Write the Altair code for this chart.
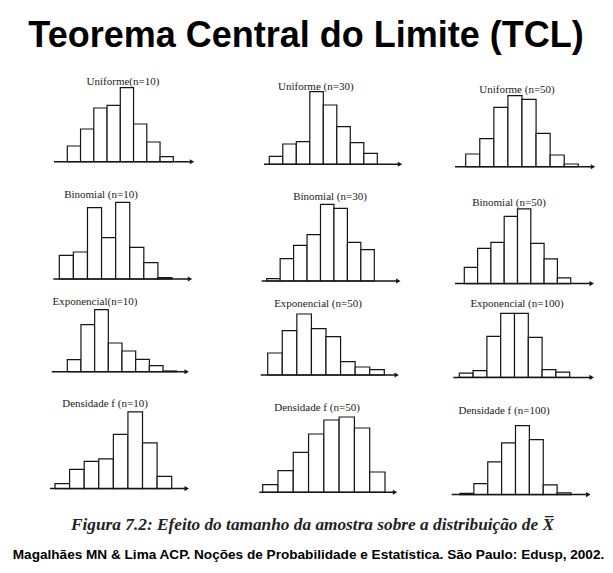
import altair as alt
import pandas as pd

# ---------------- data: class heights (8 classes each) ----------------
uniforme_10 = [15.7, 32.7, 53.7, 56.3, 74.0, 37.7, 19.7, 5.0]
uniforme_30 = [8.0, 20.3, 22.7, 72.7, 59.3, 37.7, 21.7, 11.0]
uniforme_50 = [12.7, 28.0, 59.3, 71.0, 67.3, 33.3, 11.7, 2.7]
binomial_10 = [23.7, 27.0, 71.3, 41.3, 76.7, 31.7, 16.3, 1.3]
binomial_30 = [2.3, 22.3, 35.7, 46.3, 76.7, 72.7, 38.7, 31.3]
binomial_50 = [16.3, 35.3, 41.3, 67.3, 74.7, 40.3, 24.7, 5.7]
exponencial_10 = [12.0, 47.0, 62.0, 28.7, 20.7, 12.3, 6.0, 0.7]
exponencial_50 = [22.0, 44.3, 61.0, 46.3, 38.3, 13.3, 8.0, 5.3]
exponencial_100 = [4.3, 6.7, 41.0, 64.0, 64.0, 40.0, 7.7, 5.3]
densidade_10 = [5.0, 19.3, 27.3, 29.7, 54.3, 76.7, 45.7, 12.3]
densidade_50 = [7.7, 21.7, 40.0, 58.3, 72.3, 75.3, 64.3, 20.3]
densidade_100 = [1.3, 11.0, 32.7, 51.7, 69.0, 55.0, 9.7, 1.7]

series = [
    uniforme_10, uniforme_30, uniforme_50,
    binomial_10, binomial_30, binomial_50,
    exponencial_10, exponencial_50, exponencial_100,
    densidade_10, densidade_50, densidade_100,
]
panel_titles = [
    "Uniforme(n=10)", "Uniforme (n=30)", "Uniforme (n=50)",
    "Binomial (n=10)", "Binomial (n=30)", "Binomial (n=50)",
    "Exponencial(n=10)", "Exponencial (n=50)", "Exponencial (n=100)",
    "Densidade f (n=10)", "Densidade f (n=50)", "Densidade f (n=100)",
]
main_title = "Teorema Central do Limite (TCL)"
caption = "Figura 7.2: Efeito do tamanho da amostra sobre a distribuição de X\u0305"
footer = "Magalhães MN & Lima ACP.  Noções de  Probabilidade e Estatística. São Paulo: Edusp, 2002."

# ---------------- layout (page pixels) ----------------
COL_X = [0, 245, 440]
COL_W = [245, 195, 173]
TITLE_ROW_H = 70
PAD = 5  # room below each baseline for the arrow head
# axis start, axis end, first class left, last class right, baseline, label x, label y
LAYOUT = [
    (54, 192, 67.3, 173.3, 161.7, 123, 81.7),
    (264, 400, 269.3, 377.3, 164.3, 315.8, 86.7),
    (455, 593, 465.7, 578.3, 166.7, 517, 90),
    (53.3, 190, 59.3, 172, 278.7, 101, 195),
    (261.7, 398.3, 266.7, 374.3, 280.7, 330, 196.7),
    (455, 591.7, 464.3, 570.7, 283.3, 509, 203),
    (51.7, 186.7, 67.3, 176.7, 371, 95, 301),
    (260.7, 396.7, 267.7, 384.3, 374.3, 318, 303),
    (453.3, 591.7, 459.3, 569.7, 376.7, 517, 303),
    (50, 186.7, 55, 171.7, 487.3, 105, 403),
    (259.3, 395, 262.7, 385, 491, 317, 406.7),
    (451.7, 588.3, 460, 571, 493.3, 504, 410),
]
INK = "#151515"


def panel(i, top):
    a, e, s, f, b, tx, ty = LAYOUT[i]
    col = i % 3
    ox, w = COL_X[col], COL_W[col]
    h = b - top
    k = (f - s) / 8.0
    xdom = [(ox - s) / k, (ox + w - s) / k]
    n = len(series[i])
    df = pd.DataFrame({
        "classe": list(range(n)),
        "fim": [c + 1 for c in range(n)],
        "freq": series[i],
    })
    bars = alt.Chart(df).mark_bar(fill="white", stroke=INK, strokeWidth=1.2).encode(
        x=alt.X("classe:Q", scale=alt.Scale(domain=xdom, nice=False, zero=False), axis=None),
        x2="fim:Q",
        y=alt.Y("freq:Q", scale=alt.Scale(domain=[-PAD, h], nice=False, zero=False), axis=None, stack=None),
        y2=alt.datum(0),
    )
    one = pd.DataFrame({"label": [panel_titles[i]]})
    axis_line = alt.Chart(one).mark_rule(color=INK, strokeWidth=1.5).encode(
        x=alt.value(a - ox), x2=alt.value(e - ox), y=alt.value(h)
    )
    arrow = alt.Chart(one).mark_point(
        shape="triangle-right", filled=True, color=INK, size=26, opacity=1
    ).encode(x=alt.value(e - ox), y=alt.value(h))
    label = alt.Chart(one).mark_text(
        font="Liberation Serif", fontSize=11, color="#222", baseline="middle", align="center"
    ).encode(text="label:N", x=alt.value(tx - ox), y=alt.value(ty - top))
    return alt.layer(bars, axis_line, arrow, label).properties(width=w, height=h + PAD)


tops = [TITLE_ROW_H]
for r in range(4):
    tops.append(max(LAYOUT[3 * r + c][4] for c in range(3)) + PAD)

rows = []
for r in range(4):
    rows.append(alt.hconcat(*[panel(3 * r + c, tops[r]) for c in range(3)], spacing=0))

title_chart = alt.Chart(pd.DataFrame({"t": [main_title]})).mark_text(
    font="Liberation Sans", fontSize=36, fontWeight="bold", color="black", baseline="middle", align="center"
).encode(text="t:N", x=alt.value(306), y=alt.value(36)).properties(width=613, height=TITLE_ROW_H)

cap_top = tops[4]
cap_df = pd.DataFrame({"t": [caption]})
foot_df = pd.DataFrame({"t": [footer]})
cap_text = alt.Chart(cap_df).mark_text(
    font="Liberation Serif", fontSize=17.3, fontStyle="italic", fontWeight="bold", color="#222",
    baseline="middle", align="center"
).encode(text="t:N", x=alt.value(312.5), y=alt.value(523 - cap_top))
foot_text = alt.Chart(foot_df).mark_text(
    font="Liberation Sans", fontSize=13.6, fontWeight="bold", color="black",
    baseline="middle", align="center"
).encode(text="t:N", x=alt.value(308.5), y=alt.value(553 - cap_top))
caption_chart = alt.layer(cap_text, foot_text).properties(width=613, height=573 - cap_top)

chart = alt.vconcat(title_chart, *rows, caption_chart, spacing=0).properties(
    padding=0, background="white"
).configure_view(stroke=None).configure_concat(spacing=0)

chart.save("out.html", embed_options={"renderer": "svg", "actions": False})
